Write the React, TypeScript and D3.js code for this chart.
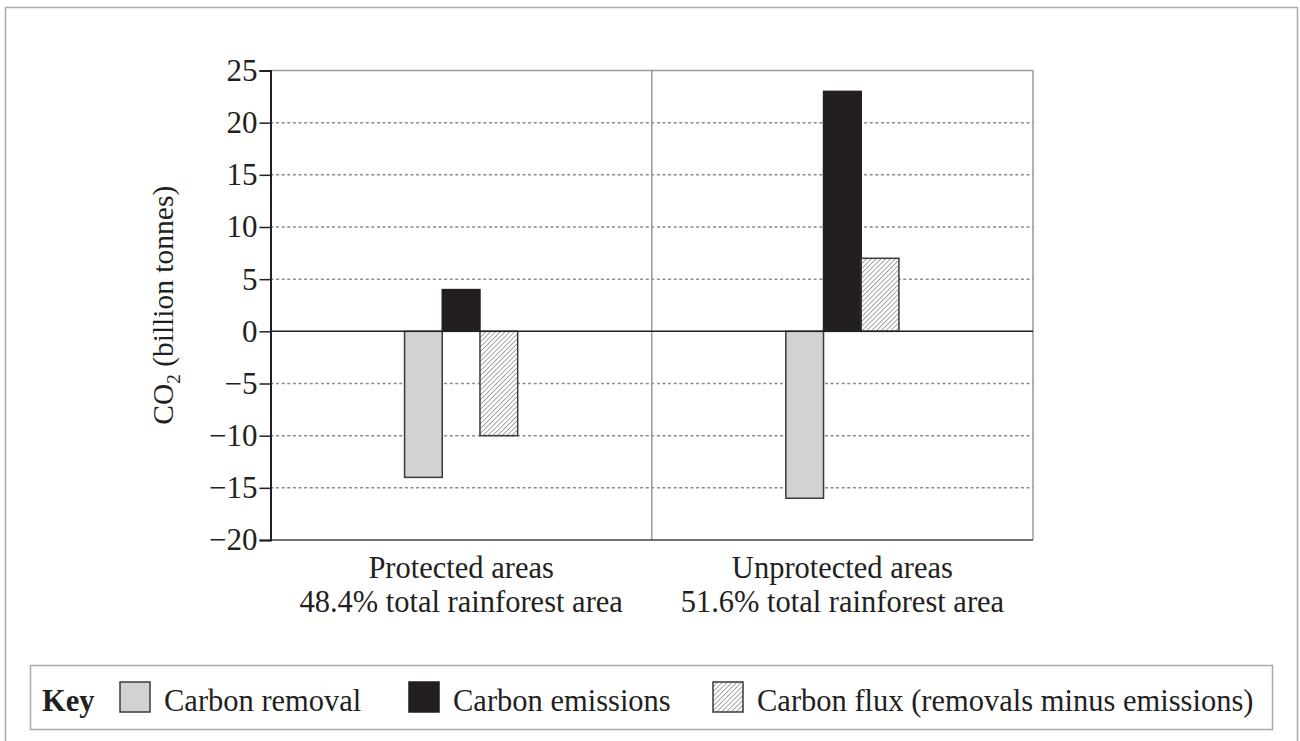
import * as React from 'react';
import { axisLeft, scaleBand, scaleLinear, select } from 'd3';

// chart values
const categories = ["Protected areas", "Unprotected areas"];
const areaShares = ["48.4% total rainforest area", "51.6% total rainforest area"];
const seriesNames = ["Carbon removal", "Carbon emissions", "Carbon flux (removals minus emissions)"];
const carbonRemoval = [-14, -16];
const carbonEmissions = [4, 23];
const carbonFlux = [-10, 7];
const yTicks = [-20, -15, -10, -5, 0, 5, 10, 15, 20, 25];

const ink = "#231f20";
const fonts = "'Liberation Serif', 'Times New Roman', serif";

const App = () => {
    const svgRef = React.useRef<SVGSVGElement>(null);

    React.useEffect(() => {
        if (!svgRef.current) {
            return;
        }
        const width = 1300;
        const height = 741;
        const margin = { top: 70.5, bottom: 201, left: 270.5, right: 267 };
        const innerW = width - margin.left - margin.right;
        const innerH = height - margin.top - margin.bottom;

        const svg = select(svgRef.current);
        svg.selectAll("*").remove();
        svg.attr("width", width).attr("height", height).style("background", "white");

        const defs = svg.append("defs");
        const pat = defs.append("pattern")
            .attr("id", "hatch")
            .attr("patternUnits", "userSpaceOnUse")
            .attr("width", 3.4)
            .attr("height", 3.4)
            .attr("patternTransform", "rotate(45)");
        pat.append("rect").attr("width", 3.4).attr("height", 3.4).attr("fill", "white");
        pat.append("line")
            .attr("x1", 0).attr("y1", 0).attr("x2", 0).attr("y2", 3.4)
            .attr("stroke", ink).attr("stroke-width", 0.8);

        const fills = ["#d1d2d4", ink, "url(#hatch)"];

        // outer frame
        svg.append("rect")
            .attr("x", 5.5).attr("y", 7.5)
            .attr("width", 1292).attr("height", 800)
            .attr("fill", "none").attr("stroke", "#aaa").attr("stroke-width", 1.5);

        const g = svg.append("g").attr("transform", `translate(${margin.left}, ${margin.top})`);

        const xScale = scaleBand().domain(categories).range([0, innerW]).padding(0);
        const yScale = scaleLinear().domain([-20, 25]).range([innerH, 0]);
        const barW = 37.7;
        const inner = scaleBand().domain(seriesNames).range([-barW * 1.5, barW * 1.5]).padding(0);

        // gridlines
        g.selectAll(".grid")
            .data(yTicks.filter(t => t !== 0 && t !== -20 && t !== 25))
            .join("line")
            .attr("class", "grid")
            .attr("x1", 0).attr("x2", innerW)
            .attr("y1", d => yScale(d)).attr("y2", d => yScale(d))
            .attr("stroke", "#8c8c8c").attr("stroke-width", 1.5)
            .attr("stroke-dasharray", "3,2.6");

        // top and right border, middle separator
        g.append("line").attr("x1", 0).attr("x2", innerW).attr("y1", 0).attr("y2", 0)
            .attr("stroke", "#999").attr("stroke-width", 1.5);
        g.append("line").attr("x1", innerW).attr("x2", innerW).attr("y1", 0).attr("y2", innerH)
            .attr("stroke", "#999").attr("stroke-width", 1.5);
        g.append("line")
            .attr("x1", xScale("Unprotected areas")!).attr("x2", xScale("Unprotected areas")!)
            .attr("y1", 0).attr("y2", innerH)
            .attr("stroke", "#999").attr("stroke-width", 1.5);

        // bars
        const seriesValues = [carbonRemoval, carbonEmissions, carbonFlux];
        const rows = categories.flatMap((c, ci) => seriesNames.map((s, si) => ({ c, s, si, v: seriesValues[si][ci] })));
        g.selectAll(".bar")
            .data(rows)
            .join("rect")
            .attr("class", "bar")
            .attr("x", d => xScale(d.c)! + xScale.bandwidth() / 2 + inner(d.s)!)
            .attr("y", d => yScale(Math.max(0, d.v)))
            .attr("width", inner.bandwidth())
            .attr("height", d => Math.abs(yScale(d.v) - yScale(0)))
            .attr("fill", d => fills[d.si])
            .attr("stroke", d => d.si === 1 ? ink : "#3a3a3a")
            .attr("stroke-width", 1.5);

        // zero line and bottom line
        g.append("line").attr("x1", 0).attr("x2", innerW).attr("y1", yScale(0)).attr("y2", yScale(0))
            .attr("stroke", ink).attr("stroke-width", 1.5);
        g.append("line").attr("x1", 0).attr("x2", innerW).attr("y1", innerH).attr("y2", innerH)
            .attr("stroke", "#444").attr("stroke-width", 1.5);

        // y axis
        const yAxis = axisLeft(yScale).tickValues(yTicks).tickSize(11).tickPadding(2)
            .tickFormat(d => (+d < 0 ? "\u2212" + Math.abs(+d) : String(d)));
        const ya = g.append("g").call(yAxis as any);
        ya.selectAll(".domain").attr("stroke", ink).attr("stroke-width", 2);
        ya.selectAll("line").attr("stroke", ink).attr("stroke-width", 1.5);
        ya.selectAll("text")
            .attr("fill", ink)
            .attr("font-family", fonts)
            .style("font-family", fonts)
            .style("font-size", "31px");

        // y axis title
        const yt = svg.append("text")
            .attr("transform", `translate(173, ${margin.top + innerH / 2}) rotate(-90)`)
            .attr("text-anchor", "middle")
            .attr("fill", ink)
            .style("font-family", fonts)
            .style("font-size", "29.5px");
        yt.append("tspan").text("CO");
        yt.append("tspan").attr("dy", 7).style("font-size", "19px").text("2");
        yt.append("tspan").attr("dy", -7).text(" (billion tonnes)");

        // category labels
        const cl = svg.append("g").attr("transform", `translate(${margin.left}, 0)`);
        cl.selectAll(".cat")
            .data(categories)
            .join("text")
            .attr("class", "cat")
            .attr("x", d => xScale(d)! + xScale.bandwidth() / 2)
            .attr("y", 578)
            .attr("text-anchor", "middle")
            .attr("fill", ink)
            .style("font-family", fonts)
            .style("font-size", "30.5px")
            .text(d => d);
        cl.selectAll(".share")
            .data(areaShares)
            .join("text")
            .attr("class", "share")
            .attr("x", (d, i) => xScale(categories[i])! + xScale.bandwidth() / 2)
            .attr("y", 612)
            .attr("text-anchor", "middle")
            .attr("fill", ink)
            .style("font-family", fonts)
            .style("font-size", "30.5px")
            .text(d => d);

        // key
        const key = svg.append("g");
        key.append("rect")
            .attr("x", 30.5).attr("y", 665.5).attr("width", 1242).attr("height", 64)
            .attr("fill", "white").attr("stroke", "#aaa").attr("stroke-width", 1.5);
        key.append("text")
            .attr("x", 42).attr("y", 711)
            .attr("fill", ink)
            .style("font-family", fonts).style("font-size", "30.5px").style("font-weight", "bold")
            .text("Key");
        const swatchX = [120, 409, 713];
        const labelX = [164, 453, 757];
        seriesNames.forEach((s, i) => {
            key.append("rect")
                .attr("x", swatchX[i]).attr("y", 682)
                .attr("width", 30).attr("height", 30)
                .attr("fill", fills[i])
                .attr("stroke", i === 1 ? ink : "#3a3a3a").attr("stroke-width", 1.5);
            key.append("text")
                .attr("x", labelX[i]).attr("y", 711)
                .attr("fill", ink)
                .style("font-family", fonts).style("font-size", "30.5px")
                .text(s);
        });
    }, [svgRef]);

    return (
        <svg ref={svgRef} style={{ position: 'absolute', left: 0, top: 0, display: 'block' }} />
    );
}

export default App;
